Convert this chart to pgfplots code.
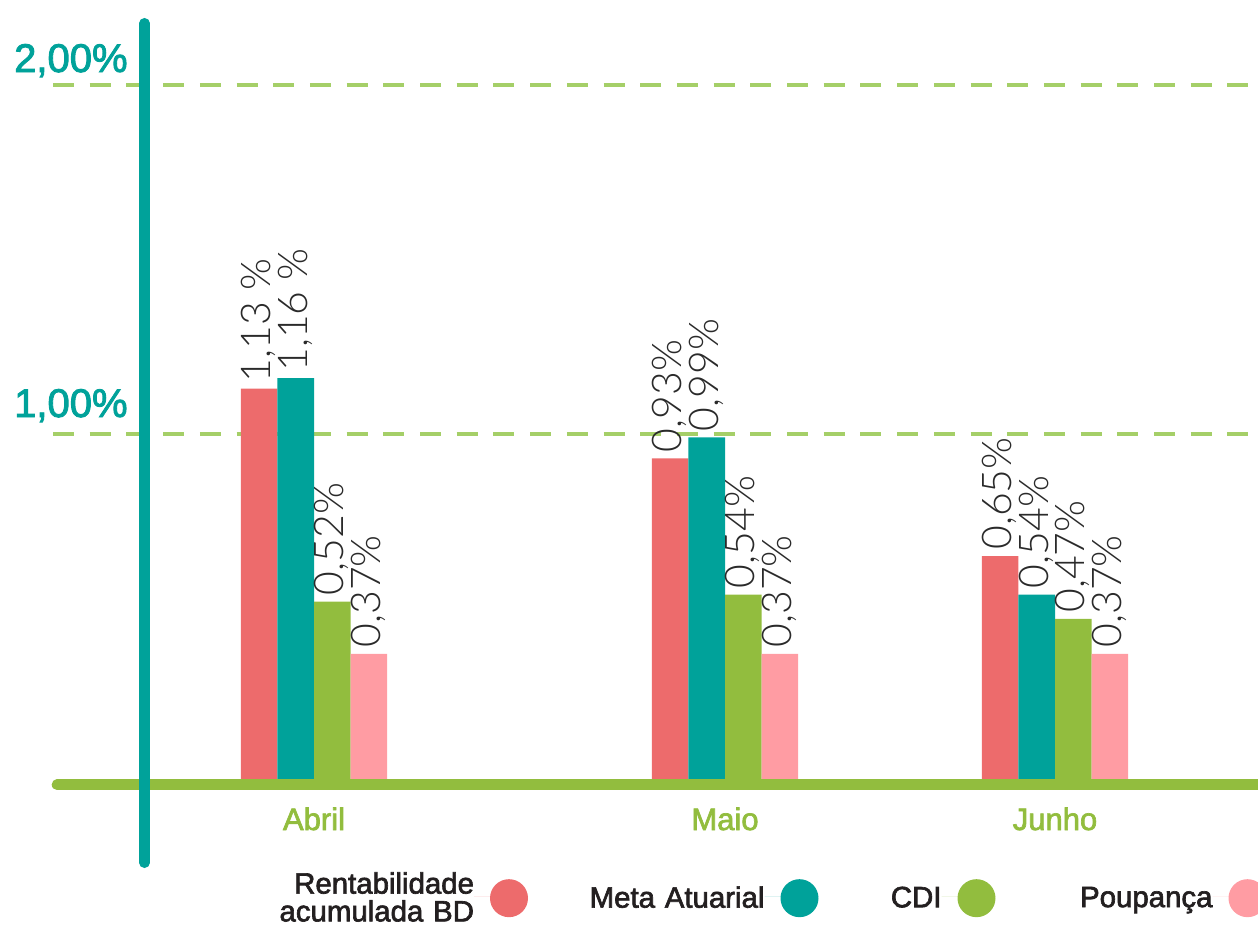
\documentclass[border=0pt]{standalone}
\usepackage{fontspec}
\setmainfont{Liberation Sans}
\newfontfamily\medfont[FakeBold=2.2]{Liberation Sans}
\newfontfamily\lightfont{Lato Light}
\usepackage{pgfplots}
\pgfplotsset{compat=1.18}
\definecolor{cRed}{HTML}{ED6B6C}
\definecolor{cTeal}{HTML}{00A29A}
\definecolor{cGreen}{HTML}{92BD3E}
\definecolor{cPink}{HTML}{FF9CA3}
\definecolor{cGrid}{HTML}{A5CF68}
\definecolor{cText}{HTML}{231F20}
\definecolor{cLabel}{HTML}{2A2A2A}
\begin{document}
\begin{tikzpicture}
\begin{axis}[
  scale only axis, width=629pt, height=463.5pt,
  xmin=0, xmax=1258, ymin=-0.41261, ymax=2.24355,
  axis lines=none, xtick=\empty, ytick=\empty,
  clip=false,
  ybar=0pt, bar width=18.3pt,
  point meta=explicit symbolic,
  nodes near coords,
  every node near coord/.append style={xshift=-9.15pt, rotate=90, anchor=north west,
     inner ysep=0pt, inner xsep=3pt, font=\lightfont\fontsize{20.5pt}{24pt}\selectfont, text=cLabel},
  legend columns=4, legend plot pos=right, legend cell align=right,
  legend style={at={(axis cs:274,-0.3266)}, anchor=west, draw=none, fill=none,
     inner sep=0pt, outer sep=0pt, column sep=0pt, row sep=0pt,
     nodes={inner sep=0pt, font=\medfont\fontsize{14.7pt}{13.9pt}\selectfont, text=cText}},
  mybar/.style={fill=#1, draw=none,
     legend image code/.code={\path (0pt,0pt) -- (27pt,0pt); \fill[#1] (17.5pt,-0.6pt) circle (9.5pt);}},
]
% dashed reference lines
\draw[cGrid, line width=2pt, dash pattern=on 10.5pt off 7.85pt] (axis cs:53,1) -- (axis cs:1258,1);
\draw[cGrid, line width=2pt, dash pattern=on 10.5pt off 7.85pt] (axis cs:53,2) -- (axis cs:1258,2);

\addplot[mybar=cRed] coordinates {(314,1.13) [1,13 \%] (725,0.93) [0,93\%] (1055,0.65) [0,65\%]};
\addlegendentry[text width=100pt, align=right, text depth=]{Rentabilidade\\acumulada BD}
\addplot[mybar=cTeal] coordinates {(314,1.16) [1,16 \%] (725,0.99) [0,99\%] (1055,0.54) [0,54\%]};
\addlegendentry[text width=118.25pt, align=right, text depth=0pt]{Meta Atuarial}
\addplot[mybar=cGreen] coordinates {(314,0.52) [0,52\%] (725,0.54) [0,54\%] (1055,0.47) [0,47\%]};
\addlegendentry[text width=61.5pt, align=right, text depth=0pt]{CDI}
\addplot[mybar=cPink] coordinates {(314,0.37) [0,37\%] (725,0.37) [0,37\%] (1055,0.37) [0,37\%]};
\addlegendentry[text width=108.5pt, align=right, text depth=0pt]{Poupança}

% base line and vertical axis
\draw[cGreen, line width=5.3pt, line cap=round] (axis cs:57,-0.005) -- (axis cs:1265,-0.005);
\draw[cTeal, line width=5.3pt, line cap=round] (axis cs:144.5,2.1768) -- (axis cs:144.5,-0.2284);

% y labels
\node[anchor=base east, inner sep=0pt, text=cTeal, font=\medfont\fontsize{20pt}{24pt}\selectfont] at (axis cs:128,2.0372) {2,00\%};
\node[anchor=base east, inner sep=0pt, text=cTeal, font=\medfont\fontsize{20pt}{24pt}\selectfont] at (axis cs:128,1.0487) {1,00\%};
% category labels
\node[anchor=base, inner sep=0pt, text=cGreen, font=\medfont\fontsize{15.5pt}{18pt}\selectfont] at (axis cs:314,-0.1347) {Abril};
\node[anchor=base, inner sep=0pt, text=cGreen, font=\medfont\fontsize{15.5pt}{18pt}\selectfont] at (axis cs:725,-0.1347) {Maio};
\node[anchor=base, inner sep=0pt, text=cGreen, font=\medfont\fontsize{15.5pt}{18pt}\selectfont] at (axis cs:1055,-0.1347) {Junho};
\end{axis}
\pgfresetboundingbox
\useasboundingbox (current axis.south west) rectangle (current axis.north east);
\end{tikzpicture}
\end{document}
